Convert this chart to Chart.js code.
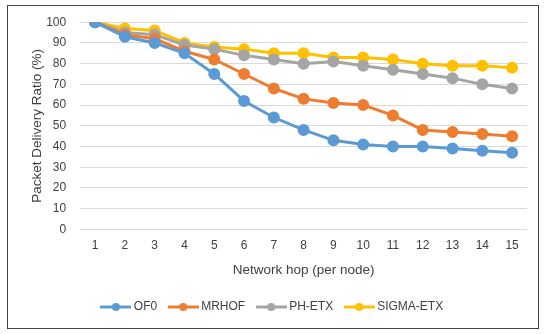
<!DOCTYPE html>
<html>
<head>
    <title>Packet Delivery Ratio</title>
    <script src="https://cdn.jsdelivr.net/npm/chart.js"></script>
    <style>
        body { margin: 0; background: #fff; }
        #marco { position: absolute; left: 7px; top: 5px; width: 530px; height: 322px; border: 1px solid #444; overflow: hidden; }
        #miGrafica { display: block; margin-top: -5px; }
    </style>
</head>
<body>
    <div id="marco"><canvas id="miGrafica" width="530" height="327"></canvas></div>
    <script>
        // datos
        const saltos = ['1','2','3','4','5','6','7','8','9','10','11','12','13','14','15'];
        const of0 = [100, 93, 90, 85, 75, 62, 54, 48, 43, 41, 40, 40, 39, 38, 37];
        const mrhof = [100, 94, 92, 86, 82, 75, 68, 63, 61, 60, 55, 48, 47, 46, 45];
        const phEtx = [100, 95, 94, 89, 87, 84, 82, 80, 81, 79, 77, 75, 73, 70, 68];
        const sigmaEtx = [100, 97, 96, 90, 88, 87, 85, 85, 83, 83, 82, 80, 79, 79, 78];
        const marcasY = [0, 10, 20, 30, 40, 50, 60, 70, 80, 90, 100];

        const colores = ['#5B9BD5', '#ED7D31', '#A5A5A5', '#FFC000'];

        // icono de leyenda: línea con punto al medio, como en Excel
        function iconoLeyenda(color) {
            const c = document.createElement('canvas');
            c.width = 31; c.height = 10;
            const ctx = c.getContext('2d');
            ctx.strokeStyle = color;
            ctx.lineWidth = 3;
            ctx.beginPath(); ctx.moveTo(0, 5); ctx.lineTo(31, 5); ctx.stroke();
            ctx.fillStyle = color;
            ctx.beginPath(); ctx.arc(15.5, 5, 4, 0, Math.PI * 2); ctx.fill();
            return c;
        }

        function serie(nombre, datos, i) {
            return {
                label: nombre,
                data: datos,
                borderColor: colores[i],
                backgroundColor: colores[i],
                borderWidth: 3,
                pointRadius: 4.5,
                pointHoverRadius: 4.5,
                pointStyle: 'circle',
                tension: 0
            };
        }

        const fuente = { family: 'Liberation Sans, Arial, sans-serif', size: 12 };
        const fuenteTitulo = { family: 'Liberation Sans, Arial, sans-serif', size: 13.5 };

        new Chart(document.getElementById('miGrafica'), {
            type: 'line',
            data: {
                labels: saltos,
                datasets: [
                    serie('OF0', of0, 0),
                    serie('MRHOF', mrhof, 1),
                    serie('PH-ETX', phEtx, 2),
                    serie('SIGMA-ETX', sigmaEtx, 3)
                ]
            },
            options: {
                responsive: false,
                animation: false,
                layout: { padding: { left: 12, right: 11, top: 0, bottom: 5 } },
                plugins: {
                    legend: {
                        position: 'bottom',
                        labels: {
                            usePointStyle: true,
                            pointStyleWidth: 24,
                            color: '#404040',
                            font: fuente,
                            padding: 14,
                            generateLabels: function (chart) {
                                return chart.data.datasets.map(function (ds, i) {
                                    return {
                                        text: ds.label,
                                        fillStyle: ds.borderColor,
                                        strokeStyle: ds.borderColor,
                                        pointStyle: iconoLeyenda(ds.borderColor),
                                        lineWidth: 0,
                                        hidden: false,
                                        datasetIndex: i,
                                        fontColor: '#404040'
                                    };
                                });
                            }
                        }
                    },
                    tooltip: { enabled: false }
                },
                scales: {
                    x: {
                        offset: true,
                        grid: { display: false, drawTicks: false },
                        border: { display: false },
                        ticks: { color: '#404040', font: fuente, padding: 9 },
                        title: { display: true, text: 'Network hop (per node)', color: '#404040', font: fuenteTitulo, padding: { top: 0, bottom: 9 } }
                    },
                    y: {
                        min: 0,
                        max: 100,
                        afterBuildTicks: function (eje) { eje.ticks = marcasY.map(v => ({ value: v })); },
                        grid: { color: '#D9D9D9', lineWidth: 1, drawTicks: false },
                        border: { display: false },
                        ticks: { color: '#404040', font: fuente, padding: 14 },
                        title: { display: true, text: 'Packet Delivery Ratio (%)', color: '#404040', font: fuenteTitulo, padding: { top: 9, bottom: -13 } }
                    }
                }
            }
        });
    </script>
</body>
</html>
